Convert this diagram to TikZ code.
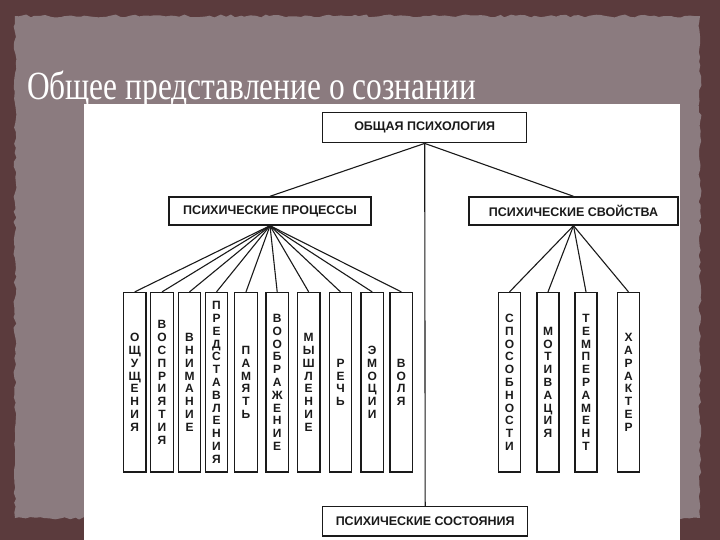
\documentclass[tikz,border=0pt]{standalone}
\usepackage{fontspec}
\setmainfont{Liberation Serif}
\newfontfamily\boxfont{Liberation Sans}
\usetikzlibrary{decorations.pathmorphing}
\definecolor{frameout}{HTML}{5B3B3D}
\definecolor{framein}{HTML}{8B7B7F}
\definecolor{ink}{HTML}{1A1A1A}
\makeatletter
\newcommand\vstk[1]{\vbox{\baselineskip=12.8pt\lineskiplimit=-100pt\lineskip=0pt
  \@tfor\vs@c:=#1\do{\hbox to 12pt{\hss\vs@c\hss}}}}
\makeatother
\tikzset{
  hdr/.style={draw=ink, line width=1.4pt, fill=white, inner sep=0pt,
    font=\boxfont\bfseries\fontsize{12.5}{14}\selectfont, text=ink},
  col/.style={draw=ink, line width=1.3pt, fill=white, inner sep=0pt,
    minimum width=22.5pt, minimum height=179.5pt,
    font=\boxfont\bfseries\fontsize{12}{12.8}\selectfont, text=ink},
  link/.style={draw=ink, line width=1.1pt}
}
\begin{document}
\begin{tikzpicture}[x=1pt,y=-1pt]
\useasboundingbox (0,0) rectangle (720,540);
\fill[frameout] (0,0) rectangle (720,540);
\fill[framein, decorate, decoration={random steps, segment length=5pt, amplitude=1.5pt}]
  (15,16) -- (700,16) -- (700,518) -- (15,518) -- cycle;
\fill[white] (83.5,104) rectangle (680,540);
\node[anchor=base west, text=white, inner sep=0pt, font=\fontsize{40}{44}\selectfont, xscale=0.785]
  (title) at (27,100) {Общее представление о сознании};

\node[hdr, minimum width=204pt, minimum height=30pt] (top) at (424.7,127.7) {ОБЩАЯ ПСИХОЛОГИЯ};
\node[hdr, minimum width=202pt, minimum height=28pt] (proc) at (270,211) {ПСИХИЧЕСКИЕ ПРОЦЕССЫ};
\node[hdr, minimum width=209pt, minimum height=28pt] (prop) at (573.5,211) {ПСИХИЧЕСКИЕ СВОЙСТВА};
\node[hdr, minimum width=205pt, minimum height=29.5pt] (state) at (425.2,521.3) {ПСИХИЧЕСКИЕ СОСТОЯНИЯ};

\node[col] (p1) at (134.7,382.3) {\vstk{ОЩУЩЕНИЯ}};
\node[col] (p2) at (162,382.3) {\vstk{ВОСПРИЯТИЯ}};
\node[col] (p3) at (189.5,382.3) {\vstk{ВНИМАНИЕ}};
\node[col, minimum width=21.6pt] (p4) at (216.5,382.3) {\vstk{ПРЕДСТАВЛЕНИЯ}};
\node[col, minimum width=23.4pt] (p5) at (246,382.3) {\vstk{ПАМЯТЬ}};
\node[col] (p6) at (277.2,382.3) {\vstk{ВООБРАЖЕНИЕ}};
\node[col] (p7) at (308.7,382.3) {\vstk{МЫШЛЕНИЕ}};
\node[col] (p8) at (340.5,382.3) {\vstk{РЕЧЬ}};
\node[col] (p9) at (372.2,382.3) {\vstk{ЭМОЦИИ}};
\node[col] (p10) at (401.3,382.3) {\vstk{ВОЛЯ}};

\node[col, minimum width=22pt] (s1) at (509.5,382.3) {\vstk{СПОСОБНОСТИ}};
\node[col, minimum width=22pt] (s2) at (548,382.3) {\vstk{МОТИВАЦИЯ}};
\node[col, minimum width=22pt] (s3) at (586,382.3) {\vstk{ТЕМПЕРАМЕНТ}};
\node[col, minimum width=22pt] (s4) at (628.5,382.3) {\vstk{ХАРАКТЕР}};

\draw[link] (top.south) -- (proc.north);
\draw[link] (top.south) -- (prop.north);
\draw[link] (top.south) -- (state.north);
\foreach \i in {1,...,10} \draw[link] (proc.south) -- (p\i.north);
\foreach \i in {1,...,4} \draw[link] (prop.south) -- (s\i.north);
\end{tikzpicture}
\end{document}
